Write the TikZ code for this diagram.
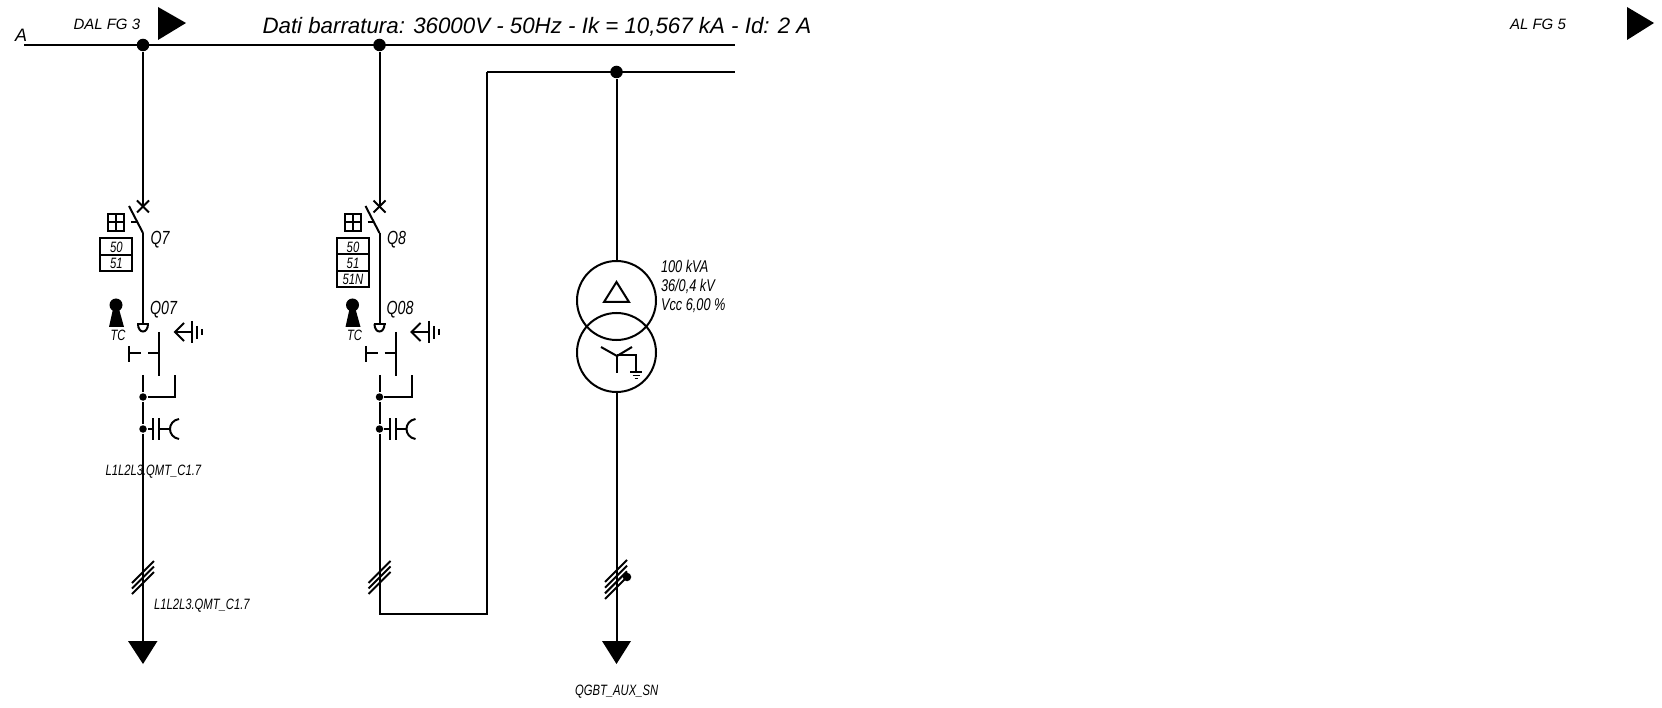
\documentclass[tikz,border=0pt]{standalone}
\usepackage{fontspec}
\setmainfont{Liberation Sans}
\newfontfamily\narrowfont[FakeStretch=0.75]{Liberation Sans}

\def\wirew{2pt}

\begin{document}
\begin{tikzpicture}[x=1pt,y=-1pt,line width=\wirew,line cap=butt,font=\itshape]
	\tikzstyle{dot}=[circle,fill=black,minimum size=12.5pt,inner sep=0pt]
	\tikzstyle{smalldot}=[circle,fill=black,minimum size=7.5pt,inner sep=0pt]
	\tikzstyle{flag}=[fill=black,draw=none]
	\tikzstyle{wide}=[anchor=base west,inner sep=0pt,font=\fontsize{15}{18}\selectfont\itshape]
	\tikzstyle{slim}=[anchor=base west,inner sep=0pt,font=\fontsize{17}{20}\selectfont\narrowfont\itshape]
	\tikzstyle{tall}=[anchor=base west,inner sep=0pt,font=\fontsize{19}{22}\selectfont\narrowfont\itshape]
	\tikzstyle{tiny}=[anchor=base west,inner sep=0pt,font=\fontsize{15}{18}\selectfont\narrowfont\itshape]
	\tikzstyle{relay}=[anchor=base,inner sep=0pt,font=\fontsize{15}{16}\selectfont\narrowfont\itshape]

	\useasboundingbox (0,0) rectangle (1662,708);

	%%%%%%%%%%%%%%%%%%%%%%%%%%%%%%%%%%%%%%%%%%%%
	%%% DRAW THE BUSBARS
	%%%%%%%%%%%%%%%%%%%%%%%%%%%%%%%%%%%%%%%%%%%%
	\coordinate (BusA-L) at (24,45);
	\coordinate (BusA-R) at (735,45);
	\coordinate (BusB-L) at (487,72);
	\coordinate (BusB-R) at (735,72);
	\draw (BusA-L) -- (BusA-R);
	\draw (BusB-L) -- (BusB-R);

	\node[wide,font=\fontsize{18}{20}\selectfont\itshape] (lblA) at (14,42) {A};
	\node[wide] (lblDal) at (72.5,30) {DAL FG 3};
	\node[wide] (lblAl) at (1509,30) {AL FG 5};
	\node[anchor=base west,inner sep=0pt,font=\fontsize{22.3}{24}\selectfont\itshape] (title) at (261.5,34)
		{Dati barratura: 36000V - 50Hz - Ik = 10,567 kA - Id: 2 A};
	\fill[flag] (158,7) -- (158,40) -- (186,23) -- cycle;
	\fill[flag] (1627,7) -- (1627,40) -- (1654,23) -- cycle;

	%%%%%%%%%%%%%%%%%%%%%%%%%%%%%%%%%%%%%%%%%%%%
	%%% DRAW THE TWO FEEDERS
	%%%%%%%%%%%%%%%%%%%%%%%%%%%%%%%%%%%%%%%%%%%%
	\foreach \name / \x / \brk / \dis in {1/143/Q7/Q07,2/379.5/Q8/Q08}
	{
		\begin{scope}[xshift=\x pt]
			\node[dot] (J-\name) at (0,45) {};
			\coordinate (X-\name) at (0,206.5);
			\coordinate (B-\name) at (0,233);
			\coordinate (T-\name) at (0,324);
			\coordinate (D-\name) at (0,375);
			\node[smalldot] (E-\name) at (0,397) {};
			\node[smalldot] (C-\name) at (0,429) {};

			\draw (J-\name) -- (X-\name);
			\draw (B-\name) -- (T-\name);
			\draw (D-\name) -- (E-\name) -- (C-\name);

			% breaker
			\draw (X-\name) ++(-6,-6) -- ++(12,12);
			\draw (X-\name) ++(-6,6) -- ++(12,-12);
			\draw (B-\name) -- (-14,206);
			\draw (-12,222) -- (-6,222);
			\draw (-35,214) rectangle (-19,231);
			\draw (-27,214) -- (-27,231);
			\draw (-35,222.5) -- (-19,222.5);

			\node[tall] (brk-\name) at (6.5,245) {\brk};
			\node[tall] (dis-\name) at (6,315) {\dis};

			% key and disconnector
			\fill (-27,305) circle (6.5);
			\fill (-30,309) -- (-34,327) -- (-19,327) -- (-24,309) -- cycle;
			\node[anchor=base,inner sep=0pt,font=\fontsize{15}{16}\selectfont\narrowfont\itshape] (tc-\name) at (-25,340.5) {TC};
			\draw (-6,324) -- (6,324);
			\draw (-5,324) .. controls (-5,334) and (5,334) .. (5,324);
			\draw (16,332) -- (16,376);
			\draw (5,353) -- (16,353);
			\draw (-14,346) -- (-14,362);
			\draw (-14,353) -- (-2,353);
			\draw (E-\name) -- (32,397) -- (32,375);

			% earth switch
			\draw (41,323) -- (32,332) -- (41,341);
			\draw (32,332) -- (49,332);
			\draw (49,321) -- (49,343);
			\draw (54,326) -- (54,339);
			\draw (59,329) -- (59,335);

			% capacitive divider
			\draw (C-\name) -- (10,429);
			\draw (10,418) -- (10,440);
			\draw (16,418) -- (16,440);
			\draw (16,429) -- (27,429);
			\draw (36,419) .. controls (24,421) and (24,437) .. (36,439);

			% cable marks
			\foreach \off in {0,5.5,11}
				\draw (-11,583+\off) -- (11,561+\off);
		\end{scope}
	}

	%%%%%%%%%%%%%%%%%%%%%%%%%%%%%%%%%%%%%%%%%%%%
	%%% RELAY BOXES
	%%%%%%%%%%%%%%%%%%%%%%%%%%%%%%%%%%%%%%%%%%%%
	\draw (100,238) rectangle (132,271);
	\draw (100,255) -- (132,255);
	\node[relay] (r50a) at (116.5,253) {50};
	\node[relay] (r51a) at (116.5,269) {51};

	\draw (336.5,238) rectangle (369,287);
	\draw (336.5,254.5) -- (369,254.5);
	\draw (336.5,271) -- (369,271);
	\node[relay] (r50b) at (353,253) {50};
	\node[relay] (r51b) at (353,269) {51};
	\node[relay] (r51n) at (353,285) {51N};

	%%%%%%%%%%%%%%%%%%%%%%%%%%%%%%%%%%%%%%%%%%%%
	%%% DRAW THE PATHS
	%%%%%%%%%%%%%%%%%%%%%%%%%%%%%%%%%%%%%%%%%%%%
	\coordinate (Out-1) at (143,641);
	\coordinate (Out-3) at (616.5,641);
	\coordinate (Loop-L) at (379.5,614);
	\coordinate (Loop-R) at (487,614);
	\draw (C-1) -- (Out-1);
	\draw (C-2) -- (Loop-L) -- (Loop-R) -- (BusB-L);
	\fill[flag] (128,641) -- (157.5,641) -- (143,664) -- cycle;
	\fill[flag] (602,641) -- (631,641) -- (616.5,664) -- cycle;

	\node[tiny] (cableTop) at (104.5,475.5) {L1L2L3.QMT\_C1.7};
	\node[tiny] (cableLow) at (153,609.5) {L1L2L3.QMT\_C1.7};
	\node[tiny] (aux) at (574,695.5) {QGBT\_AUX\_SN};

	%%%%%%%%%%%%%%%%%%%%%%%%%%%%%%%%%%%%%%%%%%%%
	%%% DRAW THE TRANSFORMER
	%%%%%%%%%%%%%%%%%%%%%%%%%%%%%%%%%%%%%%%%%%%%
	\node[dot] (J-3) at (616.5,72) {};
	\node[circle,draw,minimum size=79pt,inner sep=0pt] (W-1) at (616.5,300.5) {};
	\node[circle,draw,minimum size=79pt,inner sep=0pt] (W-2) at (616.5,352.5) {};
	\draw (J-3) -- (W-1);
	\draw (W-2) -- (Out-3);

	\draw (604,302) -- (629,302) -- (616.5,282) -- cycle;
	\draw (601,347) -- (617,356) -- (632,347);
	\draw (617,356) -- (617,373);
	\draw (617,355) -- (636,355) -- (636,372);
	\draw (630,372) -- (642,372);
	\draw[line width=1.8pt] (632.5,375.5) -- (639.5,375.5);
	\draw[line width=1.8pt] (634.5,378.5) -- (637.5,378.5);

	\node[slim] (kva) at (660,272.5) {100 kVA};
	\node[slim] (volt) at (660,291.5) {36/0,4 kV};
	\node[slim] (vcc) at (660,310.5) {Vcc 6,00 \%};

	\foreach \off in {0,5.7,11.4,17}
		\draw (605,582+\off) -- (627,560+\off);
	\node[smalldot,minimum size=8.5pt] (Sn) at (627,577) {};
\end{tikzpicture}
\end{document}
